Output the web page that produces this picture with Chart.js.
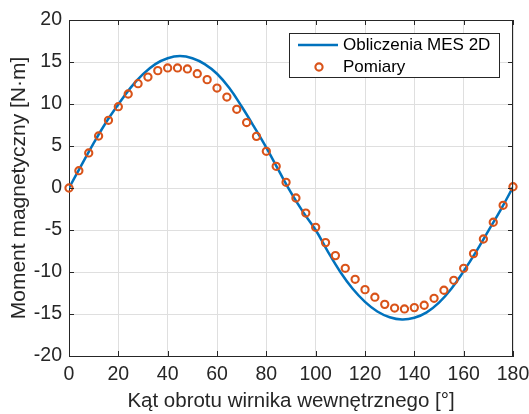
<!DOCTYPE html>
<html><head><meta charset="utf-8">
<script src="https://cdn.jsdelivr.net/npm/chart.js@4/dist/chart.umd.min.js"></script>
<style>html,body{margin:0;padding:0;background:#fff}#c{display:block}</style>
</head><body>
<canvas id="c" width="529" height="414"></canvas>
<script>
// ---- data ----
const simLabel = 'Obliczenia MES 2D';
const measLabel = 'Pomiary';
const xTitle = 'Kąt obrotu wirnika wewnętrznego [°]';
const yTitle = 'Moment magnetyczny [N·m]';

const simAngles = [0,5,10,15,20,25,30,35,40,45,50,55,60,65,70,75,80,85,90,
  95,100,105,110,115,120,125,130,135,140,145,150,155,160,165,170,175,180];
const simTorque = [0,2.7,5.35,7.8,9.95,11.95,13.55,14.75,15.45,15.7,15.45,14.75,13.6,11.9,9.7,7.3,4.8,2.1,-0.55,
  -2.9,-5.0,-7.6,-10.0,-12.0,-13.55,-14.7,-15.38,-15.65,-15.45,-14.8,-13.65,-12.0,-9.9,-7.6,-5.1,-2.6,0.1];

const measAngles = [0,4,8,12,16,20,24,28,32,36,40,44,48,52,56,60,64,68,72,76,80,84,88,
  92,96,100,104,108,112,116,120,124,128,132,136,140,144,148,152,156,160,164,168,172,176,180];
const measTorque = [0,2.06,4.17,6.19,8.06,9.68,11.19,12.42,13.21,13.97,14.29,14.29,14.17,13.61,12.9,11.9,10.83,9.37,7.79,6.15,4.37,2.58,0.68,
  -1.19,-2.98,-4.68,-6.5,-8.05,-9.56,-10.87,-12.1,-13.0,-13.85,-14.29,-14.4,-14.24,-13.96,-13.13,-12.17,-10.99,-9.56,-7.81,-6.07,-4.08,-2.06,0.15];

const xTicks = [0,20,40,60,80,100,120,140,160,180];
const yTicks = [-20,-15,-10,-5,0,5,10,15,20];

// ---- style ----
const BLUE = '#0072BD', ORANGE = '#D95319', AXIS = '#262626', GRID = '#dfdfdf';
const FONT = "'Liberation Sans', Arial, Helvetica, sans-serif";

const framePlugin = {
  id: 'frame',
  afterDraw(chart) {
    const {ctx, chartArea: a, scales} = chart;
    ctx.save();
    ctx.strokeStyle = AXIS; ctx.lineWidth = 1;
    ctx.beginPath();
    ctx.moveTo(a.left, a.top + 0.5); ctx.lineTo(a.right, a.top + 0.5);
    ctx.moveTo(a.right - 0.5, a.top); ctx.lineTo(a.right - 0.5, a.bottom);
    ctx.stroke();
    const L = 5;
    ctx.beginPath();
    xTicks.forEach(v => {
      const x = Math.round(scales.x.getPixelForValue(v)) + 0.5;
      ctx.moveTo(x, a.bottom); ctx.lineTo(x, a.bottom - L);
      ctx.moveTo(x, a.top); ctx.lineTo(x, a.top + L);
    });
    yTicks.forEach(v => {
      const y = Math.round(scales.y.getPixelForValue(v)) + 0.5;
      ctx.moveTo(a.left, y); ctx.lineTo(a.left + L, y);
      ctx.moveTo(a.right, y); ctx.lineTo(a.right - L, y);
    });
    ctx.stroke();
    // legend
    const bx = 289.5, by = 33.5, bw = 210, bh = 44;
    ctx.fillStyle = '#fff';
    ctx.fillRect(bx, by, bw, bh);
    ctx.strokeStyle = AXIS; ctx.lineWidth = 1;
    ctx.strokeRect(bx, by, bw, bh);
    const ds = chart.data.datasets;
    const sim = ds.find(d => d.label === simLabel);
    const meas = ds.find(d => d.label === measLabel);
    ctx.strokeStyle = sim.borderColor; ctx.lineWidth = sim.borderWidth;
    ctx.beginPath(); ctx.moveTo(298, 45); ctx.lineTo(338, 45); ctx.stroke();
    ctx.strokeStyle = meas.pointBorderColor; ctx.lineWidth = meas.pointBorderWidth;
    ctx.beginPath(); ctx.arc(319, 67, meas.pointRadius, 0, Math.PI * 2); ctx.stroke();
    ctx.fillStyle = '#000';
    ctx.font = '17px ' + FONT;
    ctx.textBaseline = 'middle'; ctx.textAlign = 'left';
    ctx.fillText(sim.label, 343, 45);
    ctx.fillText(meas.label, 343, 67);
    ctx.restore();
  }
};

new Chart(document.getElementById('c'), {
  type: 'line',
  data: {
    datasets: [
      {
        label: simLabel,
        data: simAngles.map((x, i) => ({x, y: simTorque[i]})),
        borderColor: BLUE, borderWidth: 2.5, pointRadius: 0,
        tension: 0.4, fill: false, order: 2
      },
      {
        label: measLabel,
        data: measAngles.map((x, i) => ({x, y: measTorque[i]})),
        showLine: false, pointStyle: 'circle', pointRadius: 3.6,
        pointBorderColor: ORANGE, pointBorderWidth: 2.1, pointBackgroundColor: 'rgba(0,0,0,0)',
        borderColor: ORANGE, clip: false, order: 1
      }
    ]
  },
  options: {
    responsive: false, animation: false, devicePixelRatio: 1,
    layout: {padding: {left: 0, right: 16, top: 20, bottom: 0}},
    plugins: {legend: {display: false}, tooltip: {enabled: false}},
    scales: {
      x: {
        type: 'linear', min: 0, max: 180,
        afterFit: s => { s.height = 58; s.paddingLeft = 0; s.paddingRight = 0; },
        afterBuildTicks: s => { s.ticks = xTicks.map(v => ({value: v})); },
        ticks: {color: AXIS, font: {family: FONT, size: 19.5}, padding: 7, maxRotation: 0},
        grid: {color: GRID, drawTicks: false},
        border: {color: AXIS, width: 1},
        title: {display: true, text: xTitle, color: AXIS, font: {family: FONT, size: 20.5}, padding: {top: 0, bottom: 0}}
      },
      y: {
        type: 'linear', min: -20, max: 20,
        afterFit: s => { s.width = 69; s.paddingTop = 0; s.paddingBottom = 0; },
        afterBuildTicks: s => { s.ticks = yTicks.map(v => ({value: v})); },
        ticks: {color: AXIS, font: {family: FONT, size: 19.5}, padding: 7},
        grid: {color: GRID, drawTicks: false},
        border: {color: AXIS, width: 1},
        title: {display: true, text: yTitle, color: AXIS, font: {family: FONT, size: 21}, padding: {top: 7, bottom: 0}}
      }
    }
  },
  plugins: [framePlugin]
});
</script>
</body></html>
